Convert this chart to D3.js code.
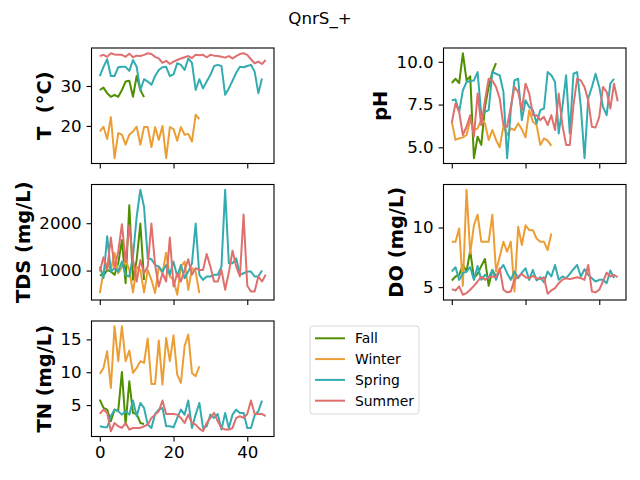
<!DOCTYPE html>
<html>
<head>
<meta charset="utf-8">
<script src="https://cdn.jsdelivr.net/npm/d3@7"></script>
<style>
  body { margin: 0; background: #fff; }
  svg text { font-family: "DejaVu Sans", sans-serif; fill: #000; white-space: pre; }
</style>
</head>
<body>
<svg id="chart" width="640" height="480"></svg>
<script>
const seasons = ["Fall", "Winter", "Spring", "Summer"];
const seasonColors = ["#4f8f00", "#ec9e35", "#33acb0", "#e0706e"];
const xTicks = [0, 20, 40];

// temperature
const tFall = [29.0, 29.6, 28.2, 27.3, 27.8, 27.3, 29.0, 31.1, 31.3, 27.3, 32.5, 29.0, 27.2];
const tWinter = [18.6, 19.8, 16.7, 22.2, 11.9, 18.2, 17.8, 15.3, 17.8, 18.6, 19.8, 15.3, 19.7, 19.7, 14.7, 19.7, 16.5, 20.0, 11.9, 19.7, 19.2, 16.3, 19.7, 17.8, 18.0, 16.1, 22.8, 21.7];
const tSpring = [32.5, 34.8, 36.7, 32.5, 32.5, 34.7, 34.8, 34.8, 33.8, 36.5, 34.8, 29.0, 31.7, 31.1, 30.3, 32.5, 34.0, 34.7, 34.8, 32.5, 32.9, 35.7, 35.3, 34.0, 36.9, 35.8, 29.0, 31.7, 29.4, 31.1, 32.8, 35.0, 35.3, 35.0, 27.8, 29.4, 31.3, 33.3, 34.8, 34.7, 35.0, 35.3, 33.6, 28.2, 31.9];
const tSummer = [37.5, 37.8, 37.3, 38.2, 37.9, 37.8, 37.8, 37.3, 38.1, 37.2, 37.6, 37.5, 37.8, 38.2, 38.0, 37.3, 36.9, 35.8, 36.3, 35.5, 36.1, 36.5, 36.9, 37.2, 37.5, 37.0, 37.8, 37.7, 37.8, 37.2, 37.8, 37.6, 37.5, 37.3, 37.1, 37.5, 36.9, 37.5, 38.0, 38.2, 37.8, 36.7, 35.7, 36.1, 35.5, 36.5];
const tTicks = [20, 30];

// pH
const phFall = [8.76, 9.01, 8.76, 10.5, 8.91, 9.15, 4.36, 5.62, 5.14, 7.36, 8.53, 9.40, 9.92];
const phWinter = [6.49, 5.43, 5.52, 5.58, 5.72, 6.59, 6.01, 6.10, 6.63, 6.40, 5.43, 6.01, 5.43, 5.00, 6.24, 5.72, 6.10, 6.01, 6.40, 6.05, 5.58, 7.17, 6.49, 6.30, 5.14, 5.52, 5.39, 5.08];
const phSpring = [7.75, 7.79, 7.07, 8.33, 8.82, 8.88, 8.91, 9.40, 6.88, 7.07, 7.17, 9.40, 9.30, 9.21, 8.24, 4.36, 7.17, 8.91, 9.01, 6.59, 7.75, 7.36, 7.17, 6.40, 7.17, 7.27, 9.40, 9.21, 8.82, 5.81, 7.36, 9.21, 5.81, 9.30, 9.40, 7.36, 4.36, 7.85, 8.53, 9.30, 8.53, 7.36, 6.88, 8.72, 9.01];
const phSummer = [6.43, 7.56, 7.07, 5.72, 6.20, 6.88, 5.62, 8.14, 6.30, 7.75, 9.01, 8.91, 8.53, 7.85, 6.30, 6.20, 7.36, 8.53, 8.24, 7.17, 8.72, 8.14, 6.88, 6.88, 6.59, 6.78, 6.30, 6.88, 6.01, 8.14, 6.30, 5.14, 5.14, 7.46, 9.01, 8.91, 8.53, 7.75, 6.20, 6.16, 6.78, 8.53, 8.24, 7.27, 8.72, 7.69];
const phTicks = [5.0, 7.5, 10.0];

// total dissolved solids
const tdsFall = [910, 889, 1014, 979, 910, 1154, 1643, 735, 2377, 805, 1224, 1993, 805];
const tdsWinter = [525, 979, 1154, 1014, 1378, 944, 1070, 1224, 1014, 539, 1084, 1014, 539, 1014, 805, 525, 1084, 944, 1378, 875, 805, 490, 1084, 1189, 595, 1049, 979, 525];
const tdsSpring = [1084, 840, 1727, 979, 1049, 979, 1189, 910, 875, 1294, 2133, 2706, 2343, 1259, 1238, 1119, 1084, 979, 1119, 910, 1189, 875, 1119, 840, 979, 1154, 1993, 910, 805, 875, 875, 910, 910, 1084, 2706, 1154, 1154, 1259, 910, 944, 979, 979, 875, 875, 1000];
const tdsSummer = [979, 1280, 1014, 1699, 1049, 1399, 1979, 1189, 1958, 1224, 770, 1224, 944, 1084, 1993, 1119, 665, 944, 770, 1699, 665, 944, 770, 1014, 1238, 910, 1049, 1014, 1014, 1350, 1084, 770, 770, 1014, 595, 958, 1420, 1084, 875, 2182, 679, 560, 560, 875, 770, 910];
const tdsTicks = [1000, 2000];

// dissolved oxygen
const doFall = [5.56, 5.89, 6.03, 6.86, 6.31, 8.06, 5.75, 6.11, 6.78, 7.36, 5.11, 6.44, 5.89];
const doWinter = [8.81, 8.81, 9.92, 5.11, 13.17, 7.83, 10.19, 11.08, 8.81, 8.81, 8.81, 11.08, 6.31, 7.56, 8.81, 7.97, 8.81, 4.64, 10.06, 8.53, 10.19, 9.78, 9.78, 9.08, 8.81, 8.81, 8.11, 9.50];
const doSpring = [6.31, 6.67, 5.61, 6.17, 6.31, 6.67, 5.61, 6.78, 5.61, 6.03, 5.75, 6.44, 5.61, 6.44, 6.86, 6.17, 5.61, 6.31, 5.75, 6.22, 6.58, 5.61, 6.44, 5.56, 5.83, 5.39, 6.31, 5.89, 6.86, 5.61, 5.89, 5.75, 6.11, 6.50, 6.86, 5.89, 6.50, 6.03, 5.75, 5.47, 5.61, 5.61, 5.33, 6.39, 5.75];
const doSummer = [4.83, 4.72, 5.06, 4.36, 4.50, 4.78, 5.11, 5.47, 5.89, 5.61, 5.83, 5.89, 5.83, 6.58, 4.78, 4.56, 4.64, 5.61, 5.89, 6.11, 5.83, 5.75, 5.94, 5.75, 5.67, 5.83, 4.44, 4.72, 4.92, 5.33, 5.61, 5.75, 5.67, 5.75, 5.83, 5.75, 5.61, 6.86, 4.64, 4.56, 4.78, 5.47, 6.22, 5.89, 6.03, 5.83];
const doTicks = [5, 10];

// total nitrogen
const tnFall = [5.84, 4.57, 4.31, 2.54, 4.31, 4.16, 10.05, 2.03, 8.63, 3.81, 3.65, 2.28, 2.13];
const tnWinter = [9.75, 10.66, 13.2, 7.61, 17.0, 11.68, 17.0, 11.68, 13.3, 9.9, 10.66, 11.68, 11.42, 15.13, 8.22, 8.22, 14.82, 8.12, 15.23, 11.68, 15.63, 9.64, 8.38, 13.96, 15.74, 9.9, 9.39, 10.91];
const tnSpring = [1.78, 1.68, 1.62, 3.30, 4.31, 4.06, 3.55, 4.06, 3.55, 5.69, 3.30, 5.33, 4.57, 2.03, 1.52, 3.65, 4.31, 4.57, 1.78, 1.78, 1.62, 3.05, 4.31, 3.55, 5.69, 1.52, 3.55, 5.33, 1.52, 1.78, 3.55, 3.05, 3.65, 1.27, 3.81, 1.52, 3.55, 4.31, 3.81, 3.81, 1.52, 1.52, 3.45, 4.06, 5.69];
const tnSummer = [3.65, 4.31, 3.81, 1.02, 2.28, 1.78, 1.52, 2.28, 1.27, 1.52, 1.52, 1.52, 1.78, 2.03, 3.05, 3.55, 4.06, 5.69, 3.65, 3.65, 3.65, 3.55, 3.05, 2.28, 3.55, 2.28, 2.03, 1.42, 1.02, 2.28, 3.05, 3.81, 2.54, 1.52, 1.27, 1.27, 1.52, 3.05, 3.30, 3.05, 3.65, 5.69, 3.65, 3.65, 3.65, 3.30];
const tnTicks = [5, 10, 15];

const panels = [
  { label: "T  (°C)", series: [tFall, tWinter, tSpring, tSummer], ticks: tTicks, fmt: d3.format("d"), col: 0, row: 0 },
  { label: "pH", series: [phFall, phWinter, phSpring, phSummer], ticks: phTicks, fmt: d3.format(".1f"), col: 1, row: 0 },
  { label: "TDS (mg/L)", series: [tdsFall, tdsWinter, tdsSpring, tdsSummer], ticks: tdsTicks, fmt: d3.format("d"), col: 0, row: 1 },
  { label: "DO (mg/L)", series: [doFall, doWinter, doSpring, doSummer], ticks: doTicks, fmt: d3.format("d"), col: 1, row: 1 },
  { label: "TN (mg/L)", series: [tnFall, tnWinter, tnSpring, tnSummer], ticks: tnTicks, fmt: d3.format("d"), col: 0, row: 2, xLabels: true }
];

const colX = [91.5, 443.5];
const rowY = [48, 184.5, 321];
const W = 182.5, H = 115.5;
const tickLen = 4.9, tickPad = 4.9;

const svg = d3.select("#chart");

// shared x scale (matplotlib style 5% margins)
const maxIdx = d3.max(panels, p => d3.max(p.series, s => s.length - 1));
const xPad = maxIdx * 0.05;
const x = d3.scaleLinear().domain([-xPad, maxIdx + xPad]).range([0, W]);

svg.append("text")
  .attr("x", 320)
  .attr("y", 23.5)
  .attr("text-anchor", "middle")
  .style("font-size", "16.67px")
  .text("QnrS_+");

function drawPanel(p) {
  const g = svg.append("g").attr("transform", `translate(${colX[p.col]},${rowY[p.row]})`);

  const [lo, hi] = d3.extent(p.series.flat());
  const pad = (hi - lo) * 0.05;
  const y = d3.scaleLinear().domain([lo - pad, hi + pad]).range([H, 0]);

  const line = d3.line().x((d, i) => x(i)).y(d => y(d));

  p.series.forEach((s, k) => {
    g.append("path")
      .datum(s)
      .attr("fill", "none")
      .attr("stroke", seasonColors[k])
      .attr("stroke-width", 2)
      .attr("stroke-linejoin", "round")
      .attr("d", line);
  });

  const yAxis = g.append("g")
    .call(d3.axisLeft(y).tickValues(p.ticks).tickFormat(p.fmt).tickSize(tickLen).tickPadding(tickPad).tickSizeOuter(0));

  const xAxis = g.append("g")
    .attr("transform", `translate(0,${H})`)
    .call(d3.axisBottom(x).tickValues(xTicks).tickFormat(p.xLabels ? d3.format("d") : "").tickSize(tickLen).tickPadding(tickPad).tickSizeOuter(0));

  [yAxis, xAxis].forEach(a => {
    a.select(".domain").remove();
    a.selectAll("line").attr("stroke", "#000").attr("stroke-width", 1.1);
    a.selectAll("text").style("font-size", "16.67px").attr("fill", "#000");
  });

  g.append("rect")
    .attr("width", W)
    .attr("height", H)
    .attr("fill", "none")
    .attr("stroke", "#000")
    .attr("stroke-width", 1.1);

  const left = yAxis.node().getBBox().x;
  g.append("text")
    .attr("transform", `translate(${left - 5.6 - 4.2},${H / 2}) rotate(-90)`)
    .attr("text-anchor", "middle")
    .attr("xml:space", "preserve")
    .style("font-size", "19.44px")
    .style("font-weight", "bold")
    .text(p.label);
}

panels.forEach(drawPanel);

// legend
const legend = svg.append("g").attr("transform", "translate(310,326)");
legend.append("rect")
  .attr("width", 109)
  .attr("height", 88)
  .attr("rx", 3)
  .attr("fill", "#fff")
  .attr("stroke", "#d6d6d6")
  .attr("stroke-width", 1);

seasons.forEach((name, k) => {
  const cy = 12.3 + k * 20.8;
  legend.append("line")
    .attr("x1", 5).attr("x2", 35)
    .attr("y1", cy).attr("y2", cy)
    .attr("stroke", seasonColors[k])
    .attr("stroke-width", 2);
  legend.append("text")
    .attr("x", 45)
    .attr("y", cy + 5)
    .style("font-size", "13.9px")
    .text(name);
});
</script>
</body>
</html>
